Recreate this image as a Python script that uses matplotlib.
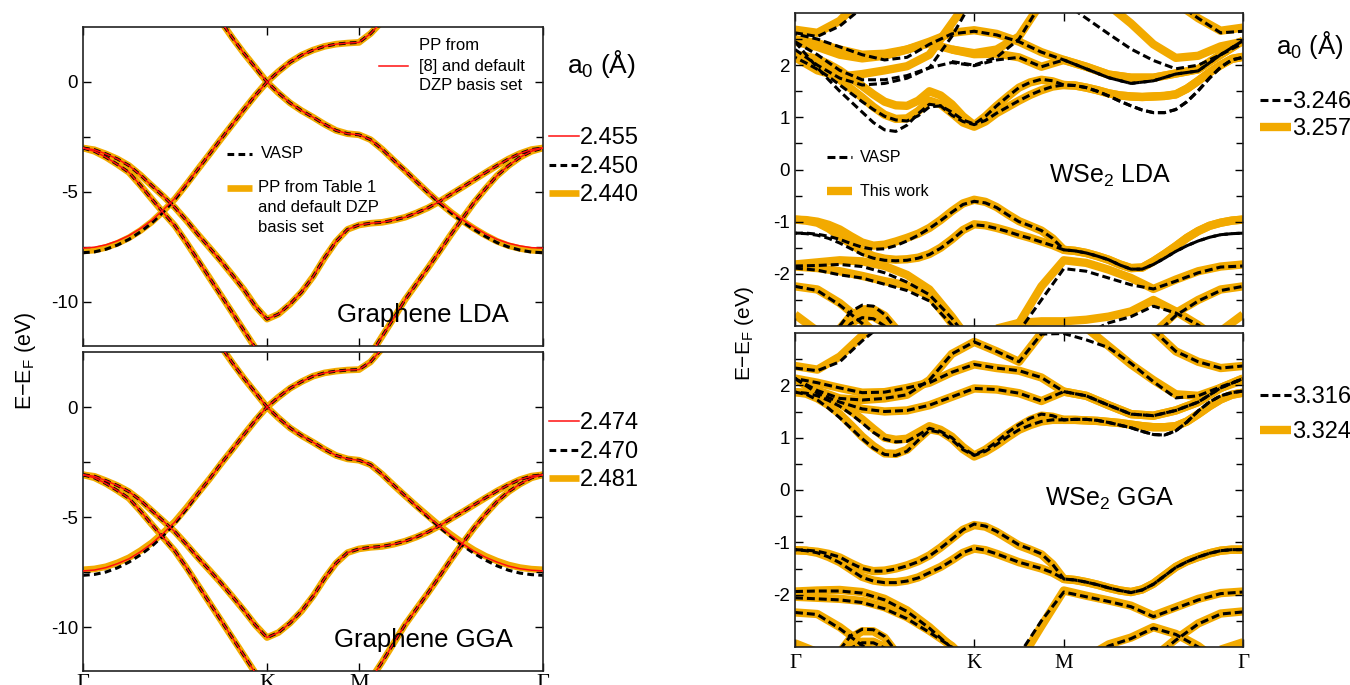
import numpy as np
import matplotlib.pyplot as plt
from matplotlib.lines import Line2D
from matplotlib.ticker import FixedLocator

plt.rcParams['font.family'] = ['Liberation Sans', 'DejaVu Sans']
plt.rcParams['mathtext.fontset'] = 'custom'
plt.rcParams['mathtext.rm'] = 'Liberation Sans'
plt.rcParams['mathtext.it'] = 'Liberation Sans:italic'
plt.rcParams['axes.unicode_minus'] = False

nan = np.nan

# k-path: G -> K -> M -> G   (K at 0.4, M at 0.6)
kpath = [0.0, 0.05, 0.1, 0.15, 0.2, 0.25, 0.3, 0.35, 0.4, 0.45, 0.5,
         0.55, 0.6, 0.65, 0.7, 0.75, 0.8, 0.85, 0.9, 0.95, 1.0]
# finer path for the most visible bands
kfine = [0.0, 0.025, 0.05, 0.075, 0.1, 0.125, 0.15, 0.175, 0.2, 0.225, 0.25,
         0.275, 0.3, 0.325, 0.35, 0.375, 0.4, 0.425, 0.45, 0.475, 0.5,
         0.525, 0.55, 0.575, 0.6, 0.625, 0.65, 0.675, 0.7, 0.725, 0.75,
         0.775, 0.8, 0.825, 0.85, 0.875, 0.9, 0.925, 0.95, 0.975, 1.0]
kmarks = [0.0, 0.4, 0.6, 1.0]
klabels = ['Γ', 'K', 'M', 'Γ']

# ---------------- graphene LDA (on kfine) ----------------
g_lda_pi_vasp = [-7.76, -7.72, -7.6, -7.41, -7.15, -6.81, -6.4, -5.9, -5.33, -4.66, -3.96,
                 -3.28, -2.59, -1.92, -1.25, -0.6, 0.0, -0.5, -0.95, -1.3, -1.6,
                 -1.92, -2.2, -2.35, -2.4, -2.62, -3.05, -3.55, -4.03, -4.53, -5.02,
                 -5.5, -5.94, -6.35, -6.7, -7.02, -7.3, -7.5, -7.64, -7.73, -7.76]
g_lda_pi_this = [-7.68, -7.64, -7.52, -7.33, -7.08, -6.75, -6.35, -5.86, -5.31, -4.65, -3.96,
                 -3.28, -2.59, -1.92, -1.25, -0.6, 0.0, -0.5, -0.95, -1.3, -1.6,
                 -1.92, -2.2, -2.35, -2.4, -2.62, -3.05, -3.55, -4.03, -4.53, -5.02,
                 -5.49, -5.92, -6.31, -6.66, -6.97, -7.24, -7.44, -7.57, -7.65, -7.68]
g_lda_pi_pp8 = [-7.55, -7.51, -7.4, -7.22, -6.98, -6.66, -6.28, -5.8, -5.28, -4.63, -3.95,
                -3.28, -2.59, -1.92, -1.25, -0.6, 0.0, -0.5, -0.95, -1.3, -1.6,
                -1.92, -2.2, -2.35, -2.4, -2.62, -3.05, -3.55, -4.03, -4.53, -5.0,
                -5.47, -5.88, -6.26, -6.6, -6.9, -7.15, -7.33, -7.45, -7.53, -7.55]
g_lda_pistar = [nan] * 10 + [4.2, 3.45, 2.75, 2.0, 1.3, 0.65, 0.0, 0.48, 0.9, 1.22, 1.45,
                             1.62, 1.72, 1.77, 1.8, 2.2, 2.75, 3.4, 4.0] + [nan] * 12
g_lda_sigma_k = [-3.0, -3.08, -3.27, -3.5, -3.8, -4.23, -4.72, -5.2, -5.71, -6.3, -6.93,
                 -7.53, -8.14, -8.78, -9.44, -10.2, -10.78, -10.55, -10.1, -9.55, -8.85,
                 -8.0, -7.25, -6.7, -6.5, -6.42, -6.38, -6.28, -6.15, -5.95, -5.72,
                 -5.43, -5.1, -4.78, -4.45, -4.12, -3.8, -3.5, -3.25, -3.07, -3.0]
g_lda_sigma_s = [-3.0, -3.15, -3.42, -3.75, -4.11, -4.7, -5.33, -5.95, -6.54, -7.3, -8.1,
                 -8.9, -9.7, -10.5, -11.3, -12.1, -12.9] + [nan] * 7 + \
                [-13.2, -12.4, -11.57, -10.75, -9.9, -9.17, -8.45,
                 -7.7, -6.93, -6.2, -5.48, -4.85, -4.26, -3.8, -3.42, -3.15, -3.0]

# ---------------- graphene GGA (on kfine) ----------------
g_gga_pi_vasp = [-7.65, -7.61, -7.5, -7.31, -7.05, -6.72, -6.32, -5.83, -5.28, -4.63, -3.94,
                 -3.27, -2.58, -1.92, -1.25, -0.6, 0.0, -0.5, -0.95, -1.3, -1.6,
                 -1.92, -2.2, -2.36, -2.42, -2.62, -3.05, -3.55, -4.03, -4.52, -5.0,
                 -5.46, -5.9, -6.3, -6.65, -6.96, -7.22, -7.42, -7.55, -7.62, -7.65]
g_gga_pi_this = [-7.4, -7.36, -7.26, -7.08, -6.85, -6.53, -6.16, -5.7, -5.2, -4.58, -3.92,
                 -3.27, -2.58, -1.92, -1.25, -0.6, 0.0, -0.5, -0.95, -1.3, -1.6,
                 -1.92, -2.2, -2.36, -2.42, -2.62, -3.05, -3.55, -4.03, -4.5, -4.95,
                 -5.4, -5.8, -6.17, -6.5, -6.78, -7.0, -7.18, -7.3, -7.37, -7.4]
g_gga_pi_pp8 = [-7.45, -7.41, -7.3, -7.12, -6.9, -6.58, -6.2, -5.73, -5.22, -4.6, -3.93,
                -3.27, -2.58, -1.92, -1.25, -0.6, 0.0, -0.5, -0.95, -1.3, -1.6,
                -1.92, -2.2, -2.36, -2.42, -2.62, -3.05, -3.55, -4.03, -4.51, -4.97,
                -5.42, -5.83, -6.21, -6.55, -6.83, -7.05, -7.23, -7.35, -7.42, -7.45]
g_gga_pistar = [nan] * 10 + [4.2, 3.45, 2.75, 2.0, 1.3, 0.65, 0.0, 0.45, 0.85, 1.15, 1.4,
                             1.55, 1.63, 1.68, 1.7, 2.05, 2.65, 3.3, 3.9] + [nan] * 12
g_gga_sigma_k = [-3.08, -3.15, -3.35, -3.57, -3.85, -4.25, -4.72, -5.19, -5.68, -6.25, -6.85,
                 -7.42, -8.0, -8.62, -9.25, -9.92, -10.48, -10.25, -9.82, -9.28, -8.6,
                 -7.8, -7.1, -6.62, -6.45, -6.38, -6.34, -6.24, -6.1, -5.91, -5.68,
                 -5.4, -5.08, -4.77, -4.45, -4.13, -3.82, -3.54, -3.3, -3.14, -3.08]
g_gga_sigma_s = [-3.08, -3.22, -3.48, -3.8, -4.15, -4.73, -5.35, -5.95, -6.55, -7.3, -8.1,
                 -8.9, -9.7, -10.5, -11.3, -12.1, -12.9] + [nan] * 7 + \
                [-13.2, -12.4, -11.6, -10.75, -9.9, -9.17, -8.45,
                 -7.7, -6.93, -6.2, -5.5, -4.87, -4.3, -3.85, -3.5, -3.22, -3.08]

# ---------------- WSe2 LDA: main bands on kfine ----------------
w_lda_v1_this = [-0.96, -0.97, -1.0, -1.06, -1.15, -1.28, -1.4, -1.46, -1.44, -1.38,
                 -1.31, -1.23, -1.12, -0.97, -0.8, -0.65, -0.58, -0.62, -0.72, -0.86,
                 -0.99, -1.08, -1.17, -1.32, -1.54, -1.56, -1.6, -1.66, -1.73, -1.82,
                 -1.89, -1.88, -1.76, -1.62, -1.47, -1.31, -1.18, -1.08, -1.02, -0.98, -0.96]
w_lda_v2_this = [-0.96, -0.98, -1.02, -1.13, -1.28, -1.43, -1.57, -1.66, -1.71, -1.73,
                 -1.72, -1.69, -1.62, -1.5, -1.34, -1.16, -1.05, -1.07, -1.12, -1.18,
                 -1.25, -1.31, -1.38, -1.45, -1.54, -1.56, -1.6, -1.66, -1.73, -1.82,
                 -1.89, -1.88, -1.76, -1.62, -1.47, -1.31, -1.18, -1.08, -1.02, -0.98, -0.96]
w_lda_v1_vasp = [-1.22, -1.22, -1.24, -1.28, -1.34, -1.42, -1.49, -1.53, -1.52, -1.46,
                 -1.37, -1.26, -1.13, -0.98, -0.82, -0.67, -0.61, -0.64, -0.73, -0.87,
                 -1.0, -1.08, -1.17, -1.32, -1.54, -1.56, -1.6, -1.66, -1.73, -1.83,
                 -1.91, -1.91, -1.82, -1.7, -1.57, -1.46, -1.37, -1.3, -1.25, -1.23, -1.22]
w_lda_v2_vasp = [-1.22, -1.23, -1.26, -1.32, -1.41, -1.52, -1.63, -1.7, -1.74, -1.75,
                 -1.74, -1.7, -1.63, -1.51, -1.35, -1.17, -1.06, -1.08, -1.13, -1.19,
                 -1.26, -1.32, -1.39, -1.46, -1.54, -1.56, -1.6, -1.66, -1.73, -1.83,
                 -1.91, -1.91, -1.82, -1.7, -1.57, -1.46, -1.37, -1.3, -1.25, -1.23, -1.22]
w_lda_c1_vasp = [2.45, 2.2, 1.95, 1.72, 1.5, 1.3, 1.1, 0.9, 0.76, 0.73,
                 0.85, 1.07, 1.25, 1.22, 1.04, 0.92, 0.86, 0.94, 1.08, 1.2,
                 1.32, 1.43, 1.52, 1.59, 1.62, 1.61, 1.57, 1.5, 1.41, 1.31,
                 1.22, 1.14, 1.09, 1.09, 1.15, 1.3, 1.51, 1.75, 1.96, 2.1, 2.15]
w_lda_c2_vasp = [2.15, 2.04, 1.92, 1.78, 1.62, 1.46, 1.3, 1.15, 1.02, 0.95,
                 0.93, 1.03, 1.2, 1.22, 1.1, 0.95, 0.87, 1.02, 1.22, 1.4,
                 1.57, 1.67, 1.73, 1.7, 1.62, 1.61, 1.57, 1.5, 1.41, 1.31,
                 1.22, 1.14, 1.09, 1.09, 1.15, 1.3, 1.51, 1.75, 1.96, 2.1, 2.15]
w_lda_c1_this = [2.15, 2.09, 2.0, 1.87, 1.72, 1.55, 1.38, 1.2, 1.05, 0.97,
                 0.98, 1.12, 1.32, 1.25, 1.08, 0.9, 0.82, 0.92, 1.08, 1.2,
                 1.32, 1.43, 1.52, 1.59, 1.62, 1.61, 1.57, 1.52, 1.46, 1.42,
                 1.4, 1.39, 1.4, 1.41, 1.44, 1.55, 1.7, 1.86, 2.0, 2.12, 2.16]
w_lda_c2_this = [2.2, 2.17, 2.12, 2.02, 1.9, 1.75, 1.6, 1.44, 1.3, 1.23,
                 1.22, 1.32, 1.5, 1.42, 1.25, 1.02, 0.85, 1.02, 1.22, 1.4,
                 1.57, 1.67, 1.72, 1.69, 1.62, 1.61, 1.57, 1.52, 1.46, 1.42,
                 1.4, 1.39, 1.4, 1.41, 1.44, 1.55, 1.7, 1.86, 2.0, 2.12, 2.16]

# ---------------- WSe2 LDA: other bands on kpath ----------------
w_lda_v3_this = [-1.82, -1.78, -1.74, -1.76, -1.85, -2.02, -2.3, -2.82, -3.4] + [nan] * 12
w_lda_v4_this = [-1.86, -1.89, -1.95, -2.04, -2.14, -2.22, -2.42, -2.95, -3.5] + [nan] * 12
w_lda_v3_vasp = [-1.85, -1.84, -1.82, -1.86, -1.98, -2.16, -2.4, -2.85, -3.4] + [nan] * 12
w_lda_v4_vasp = [-1.89, -1.93, -2.02, -2.08, -2.2, -2.32, -2.52, -2.98, -3.5] + [nan] * 12
w_lda_v5_this = [-2.24, -2.3, -2.56, -2.91, -3.3] + [nan] * 16
w_lda_v5_vasp = [-2.24, -2.32, -2.6, -2.95, -3.35] + [nan] * 16
w_lda_v6_this = [-2.78, -3.1] + [nan] * 17 + [-3.1, -2.78]
w_lda_v7_this = [nan] * 9 + [-3.6, -2.95, -2.24, -1.74, -1.79, -1.92, -2.08, -2.29,
                             -2.11, -1.95, -1.86, -1.82]
w_lda_v7_vasp = [nan] * 9 + [-3.7, -3.1, -2.5, -1.9, -1.95, -2.08, -2.21, -2.29,
                             -2.14, -1.98, -1.87, -1.85]
w_lda_v8_this = [nan] * 9 + [-3.05, -2.94, -2.91, -2.91, -2.88, -2.82, -2.72, -2.5,
                             -2.72, -2.98, -3.3, nan]
w_lda_v8_vasp = [nan] * 13 + [-3.15, -2.94, -2.82, -2.62, -2.75, -2.98, -3.3, nan]
w_lda_v9_this = [nan] * 16 + [-3.15, -2.75, -2.5, -2.3, -2.24]
w_lda_v9_vasp = [nan] * 16 + [-3.2, -2.8, -2.52, -2.32, -2.24]
bump_k = [0.1, 0.125, 0.15, 0.175, 0.2, 0.225]
w_lda_bump1_this = [-3.05, -2.8, -2.68, -2.68, -2.8, -3.05]
w_lda_bump1_vasp = [-3.0, -2.72, -2.6, -2.62, -2.78, -3.05]
w_lda_bump2_this = [-3.15, -2.95, -2.82, -2.82, -2.95, -3.15]
w_lda_bump2_vasp = [-3.2, -2.95, -2.84, -2.86, -3.0, -3.2]

w_lda_c3_vasp = [2.45, 2.2, 1.9, 1.72, 1.72, 1.8, 1.95, 2.05, 1.99, 2.1, 2.15,
                 1.97, 2.1, 1.93, 1.76, 1.65, 1.7, 1.83, 1.89, 2.2, 2.47]
w_lda_c4_vasp = [2.6, 2.5, 2.35, 2.2, 2.1, 2.15, 2.4, 2.6, 2.65, 2.58, 2.45,
                 2.25, 2.1, 1.93, 1.76, 1.65, 1.7, 1.83, 1.89, 2.2, 2.47]
w_lda_c5_vasp = [nan] * 7 + [2.07, 2.0, 2.15, 2.5, 3.2] + [nan] * 9
w_lda_y_vasp = [2.3, 2.0, 1.75, 1.62, 1.65, 1.75, 1.95, 2.55, 3.3] + [nan] * 12
w_lda_top_vasp = [nan] * 12 + [3.2, 2.9, 2.6, 2.31, 2.09, 1.93, 2.0, 2.2, 2.42]
w_lda_t_vasp = [2.62, 2.55, 2.75, 3.1] + [nan] * 17
w_lda_tr_vasp = [nan] * 17 + [3.2, 2.9, 2.62, 2.65]
w_lda_c3_this = [2.45, 2.35, 2.2, 2.13, 2.18, 2.3, 2.42, 2.3, 2.21, 2.22, 2.15,
                 1.97, 2.1, 1.97, 1.82, 1.76, 1.76, 1.84, 1.92, 2.2, 2.47]
w_lda_c4_this = [2.5, 2.42, 2.3, 2.2, 2.22, 2.3, 2.45, 2.62, 2.67, 2.6, 2.45,
                 2.25, 2.1, 1.97, 1.82, 1.76, 1.76, 1.84, 1.92, 2.2, 2.47]
w_lda_c5_this = [nan] * 7 + [2.3, 2.23, 2.3, 2.55, 3.2] + [nan] * 9
w_lda_y_this = [2.15, 1.9, 1.78, 1.83, 1.9, 1.98, 2.2, 2.8, 3.4] + [nan] * 12
w_lda_top_this = [nan] * 14 + [3.15, 2.8, 2.4, 2.14, 2.18, 2.36, 2.45]
w_lda_t_this = [2.68, 2.62, 2.85, 3.3] + [nan] * 17
w_lda_tr_this = [nan] * 17 + [3.2, 2.9, 2.66, 2.72]

# ---------------- WSe2 GGA: main bands on kfine ----------------
w_gga_v1_this = [-1.15, -1.16, -1.18, -1.22, -1.29, -1.4, -1.5, -1.55, -1.54, -1.5,
                 -1.44, -1.36, -1.25, -1.1, -0.93, -0.76, -0.67, -0.7, -0.8, -0.93,
                 -1.06, -1.14, -1.23, -1.42, -1.7, -1.72, -1.76, -1.81, -1.87, -1.92,
                 -1.95, -1.9, -1.79, -1.63, -1.47, -1.36, -1.28, -1.21, -1.16, -1.14, -1.14]
w_gga_v2_this = [-1.15, -1.16, -1.2, -1.28, -1.38, -1.52, -1.66, -1.73, -1.76, -1.76,
                 -1.73, -1.67, -1.57, -1.47, -1.34, -1.2, -1.12, -1.15, -1.22, -1.3,
                 -1.38, -1.44, -1.5, -1.58, -1.7, -1.72, -1.76, -1.81, -1.87, -1.92,
                 -1.95, -1.9, -1.79, -1.63, -1.47, -1.36, -1.28, -1.21, -1.16, -1.14, -1.14]
w_gga_v1_vasp = [-1.14, -1.15, -1.17, -1.22, -1.28, -1.4, -1.5, -1.55, -1.55, -1.51,
                 -1.45, -1.37, -1.26, -1.11, -0.94, -0.76, -0.65, -0.69, -0.79, -0.92,
                 -1.05, -1.13, -1.22, -1.42, -1.7, -1.72, -1.76, -1.81, -1.87, -1.92,
                 -1.96, -1.91, -1.8, -1.64, -1.48, -1.37, -1.28, -1.21, -1.16, -1.14, -1.14]
w_gga_v2_vasp = [-1.14, -1.16, -1.2, -1.28, -1.39, -1.53, -1.67, -1.74, -1.77, -1.77,
                 -1.74, -1.68, -1.58, -1.48, -1.35, -1.2, -1.11, -1.15, -1.22, -1.3,
                 -1.38, -1.44, -1.5, -1.58, -1.7, -1.72, -1.76, -1.81, -1.87, -1.92,
                 -1.96, -1.91, -1.8, -1.64, -1.48, -1.37, -1.28, -1.21, -1.16, -1.14, -1.14]
w_gga_c1_vasp = [1.87, 1.83, 1.72, 1.56, 1.38, 1.18, 0.98, 0.8, 0.68, 0.66,
                 0.74, 0.95, 1.14, 1.1, 0.96, 0.77, 0.66, 0.74, 0.87, 1.02,
                 1.15, 1.24, 1.31, 1.34, 1.34, 1.35, 1.35, 1.33, 1.29, 1.24,
                 1.19, 1.12, 1.06, 1.05, 1.13, 1.3, 1.51, 1.68, 1.8, 1.86, 1.89]
w_gga_c2_vasp = [1.87, 1.85, 1.8, 1.71, 1.6, 1.45, 1.28, 1.1, 0.97, 0.92,
                 0.93, 1.05, 1.18, 1.12, 1.0, 0.8, 0.67, 0.77, 0.92, 1.1,
                 1.25, 1.37, 1.45, 1.42, 1.34, 1.35, 1.35, 1.33, 1.29, 1.24,
                 1.19, 1.12, 1.06, 1.05, 1.13, 1.3, 1.51, 1.68, 1.8, 1.86, 1.89]
w_gga_c1_this = [1.87, 1.84, 1.75, 1.62, 1.45, 1.24, 1.02, 0.84, 0.7, 0.69,
                 0.77, 0.97, 1.16, 1.12, 0.98, 0.78, 0.64, 0.73, 0.86, 1.01,
                 1.15, 1.24, 1.31, 1.34, 1.34, 1.34, 1.33, 1.32, 1.3, 1.28,
                 1.25, 1.22, 1.2, 1.2, 1.22, 1.31, 1.45, 1.6, 1.73, 1.82, 1.86]
w_gga_c2_this = [1.87, 1.86, 1.82, 1.75, 1.65, 1.51, 1.35, 1.17, 1.0, 0.96,
                 0.98, 1.1, 1.22, 1.15, 1.02, 0.82, 0.66, 0.77, 0.92, 1.08,
                 1.22, 1.34, 1.42, 1.4, 1.34, 1.34, 1.33, 1.32, 1.3, 1.28,
                 1.25, 1.22, 1.2, 1.2, 1.22, 1.31, 1.45, 1.6, 1.73, 1.82, 1.86]

# ---------------- WSe2 GGA: other bands on kpath ----------------
w_gga_v3_this = [-1.94, -1.92, -1.91, -1.95, -2.08, -2.3, -2.62, -3.0, -3.5] + [nan] * 12
w_gga_v4_this = [-2.04, -2.06, -2.08, -2.12, -2.24, -2.43, -2.69, -2.98, -3.4] + [nan] * 12
w_gga_v3_vasp = [-1.94, -1.93, -1.93, -1.97, -2.1, -2.32, -2.64, -3.02, -3.5] + [nan] * 12
w_gga_v4_vasp = [-2.06, -2.08, -2.1, -2.15, -2.27, -2.46, -2.72, -3.0, -3.4] + [nan] * 12
w_gga_v5_this = [-2.34, -2.37, -2.62, -2.94, -3.3] + [nan] * 16
w_gga_v5_vasp = [-2.34, -2.38, -2.65, -2.97, -3.3] + [nan] * 16
w_gga_v6_this = [-2.93, -3.1] + [nan] * 17 + [-3.05, -2.91]
w_gga_v7_this = [nan] * 9 + [-3.9, -3.3, -2.6, -1.92, -2.02, -2.11, -2.21, -2.4,
                             -2.24, -2.08, -1.97, -1.94]
w_gga_v7_vasp = [nan] * 9 + [-3.8, -3.15, -2.5, -1.95, -2.04, -2.13, -2.23, -2.42,
                             -2.26, -2.1, -1.98, -1.95]
w_gga_v8_this = [nan] * 13 + [-3.2, -2.95, -2.82, -2.62, -2.75, -2.98, -3.3, nan]
w_gga_v8_vasp = [nan] * 13 + [-3.25, -2.98, -2.84, -2.64, -2.76, -3.0, -3.3, nan]
w_gga_v9_this = [nan] * 16 + [-3.2, -2.85, -2.55, -2.36, -2.32]
w_gga_v9_vasp = [nan] * 16 + [-3.22, -2.87, -2.56, -2.37, -2.33]
w_gga_bump1_this = [-3.1, -2.82, -2.7, -2.7, -2.82, -3.1]
w_gga_bump1_vasp = [-3.05, -2.78, -2.66, -2.67, -2.8, -3.08]
w_gga_bump2_this = [-3.2, -3.0, -2.9, -2.9, -3.0, -3.2]
w_gga_bump2_vasp = [-3.22, -3.02, -2.92, -2.92, -3.02, -3.22]

w_gga_c3 = [2.13, 1.85, 1.68, 1.55, 1.5, 1.52, 1.62, 1.78, 1.94, 1.92, 1.85,
            1.7, 1.88, 1.8, 1.62, 1.45, 1.42, 1.52, 1.68, 1.95, 2.13]
w_gga_c4 = [2.13, 2.05, 1.95, 1.86, 1.87, 1.95, 2.05, 2.25, 2.4, 2.33, 2.28,
            2.15, 1.88, 1.8, 1.62, 1.45, 1.42, 1.52, 1.68, 1.95, 2.13]
w_gga_c5_vasp = [2.13, 1.9, 1.75, 1.72, 1.75, 1.82, 2.1, 2.6, 2.83, 2.65, 2.45,
                 2.98, 2.99, 2.87, 2.72, 2.42, 2.07, 1.76, 1.8, 1.97, 2.12]
w_gga_c5_this = [2.13, 1.9, 1.75, 1.72, 1.75, 1.82, 2.1, 2.6, 2.83, 2.65, 2.45,
                 3.0, 3.6] + [nan] * 8
w_gga_top_this = [nan] * 13 + [3.1, 2.75, 2.4, 2.1, 1.83, 1.8, 1.95, 2.1]
w_gga_t_this = [2.37, 2.3, 2.55, 2.95, 3.3] + [nan] * 16
w_gga_t_vasp = [2.33, 2.28, 2.45, 2.85, 3.2] + [nan] * 16
w_gga_tr = [nan] * 16 + [3.05, 2.65, 2.45, 2.33, 2.37]

# ---------------- styles ----------------
ORANGE = '#f2aa00'
G_THIS = dict(color=ORANGE, linewidth=4.8, solid_capstyle='butt', zorder=1)
G_VASP = dict(color='black', linewidth=2.2, linestyle=(0, (2.2, 1.4)), zorder=2)
G_PP8 = dict(color='#ff1010', linewidth=1.1, zorder=3)
W_THIS = dict(color=ORANGE, linewidth=6.0, solid_capstyle='butt', zorder=1)
W_VASP = dict(color='black', linewidth=2.2, linestyle=(0, (2.6, 1.3)), zorder=2)
W_VASP_B = dict(color='black', linewidth=2.2, linestyle=(1.95, (2.6, 1.3)), zorder=2)

W, H = 1350, 685
fig = plt.figure(figsize=(W / 100, H / 100), dpi=100)


def box(x0, y0, x1, y1):
    return [x0 / W, 1 - y1 / H, (x1 - x0) / W, (y1 - y0) / H]


def fx(x):
    return x / W


def fy(y):
    return 1 - y / H


ax_g1 = fig.add_axes(box(83, 27, 543, 346))
ax_g2 = fig.add_axes(box(83, 352, 543, 671))
ax_w1 = fig.add_axes(box(795, 13, 1243, 326))
ax_w2 = fig.add_axes(box(795, 333, 1243, 647))


def setup(ax, ylim, majors, minors, show_x, xfs, xpad):
    ax.set_xlim(0, 1)
    ax.set_ylim(*ylim)
    ax.set_xticks(kmarks)
    ax.yaxis.set_major_locator(FixedLocator(majors))
    ax.yaxis.set_minor_locator(FixedLocator(minors))
    ax.tick_params(axis='x', direction='in', top=True, length=6, width=1, pad=xpad)
    ax.tick_params(axis='y', which='both', direction='in', right=True, width=1,
                   labelsize=13.5)
    ax.tick_params(axis='y', which='major', length=6)
    ax.tick_params(axis='y', which='minor', length=5)
    if show_x:
        ax.set_xticklabels(klabels, fontfamily='Liberation Serif', fontsize=xfs)
    else:
        ax.set_xticklabels([])
    for s in ax.spines.values():
        s.set_linewidth(1.2)
        s.set_color('#222222')


for ax, show in ((ax_g1, False), (ax_g2, True)):
    setup(ax, (-12, 2.5), [-10, -5, 0], [-7.5, -2.5], show, 16, 2.5)
for ax, show in ((ax_w1, False), (ax_w2, True)):
    setup(ax, (-3, 3), [-2, -1, 0, 1, 2], [-2.5, -1.5, -0.5, 0.5, 1.5, 2.5], show, 15, 5)

# graphene bands
for ax, pis, pi_t, pi_v, pi_p, sk, ss in (
        (ax_g1, g_lda_pistar, g_lda_pi_this, g_lda_pi_vasp, g_lda_pi_pp8, g_lda_sigma_k, g_lda_sigma_s),
        (ax_g2, g_gga_pistar, g_gga_pi_this, g_gga_pi_vasp, g_gga_pi_pp8, g_gga_sigma_k, g_gga_sigma_s)):
    for style, pi in ((G_THIS, pi_t), (G_VASP, pi_v), (G_PP8, pi_p)):
        ax.plot(kfine, pi, **style)
        ax.plot(kfine, pis, **style)
        ax.plot(kfine, sk, **style)
        ax.plot(kfine, ss, **style)

# WSe2 panels: (k grid, band) pairs
lda_this = [(kfine, w_lda_v1_this), (kfine, w_lda_v2_this), (kfine, w_lda_c1_this),
            (kfine, w_lda_c2_this), (kpath, w_lda_v3_this), (kpath, w_lda_v4_this),
            (kpath, w_lda_v5_this), (kpath, w_lda_v6_this), (kpath, w_lda_v7_this),
            (kpath, w_lda_v8_this), (kpath, w_lda_v9_this), (kpath, w_lda_c3_this),
            (kpath, w_lda_c4_this), (kpath, w_lda_c5_this), (kpath, w_lda_y_this),
            (kpath, w_lda_top_this), (kpath, w_lda_t_this), (kpath, w_lda_tr_this),
            (bump_k, w_lda_bump1_this), (bump_k, w_lda_bump2_this)]
lda_vasp = [(kfine, w_lda_v1_vasp), (kfine, w_lda_c1_vasp), (kpath, w_lda_v3_vasp),
            (kpath, w_lda_v4_vasp), (kpath, w_lda_v5_vasp), (kpath, w_lda_v7_vasp),
            (kpath, w_lda_v8_vasp), (kpath, w_lda_v9_vasp), (kpath, w_lda_c3_vasp),
            (kpath, w_lda_c5_vasp), (kpath, w_lda_y_vasp), (kpath, w_lda_top_vasp),
            (kpath, w_lda_t_vasp), (kpath, w_lda_tr_vasp),
            (bump_k, w_lda_bump1_vasp), (bump_k, w_lda_bump2_vasp)]
lda_vasp_b = [(kfine, w_lda_v2_vasp), (kfine, w_lda_c2_vasp), (kpath, w_lda_c4_vasp)]

gga_this = [(kfine, w_gga_v1_this), (kfine, w_gga_v2_this), (kfine, w_gga_c1_this),
            (kfine, w_gga_c2_this), (kpath, w_gga_v3_this), (kpath, w_gga_v4_this),
            (kpath, w_gga_v5_this), (kpath, w_gga_v6_this), (kpath, w_gga_v7_this),
            (kpath, w_gga_v8_this), (kpath, w_gga_v9_this), (kpath, w_gga_c3),
            (kpath, w_gga_c4), (kpath, w_gga_c5_this), (kpath, w_gga_top_this),
            (kpath, w_gga_t_this), (kpath, w_gga_tr),
            (bump_k, w_gga_bump1_this), (bump_k, w_gga_bump2_this)]
gga_vasp = [(kfine, w_gga_v1_vasp), (kfine, w_gga_c1_vasp), (kpath, w_gga_v3_vasp),
            (kpath, w_gga_v4_vasp), (kpath, w_gga_v5_vasp), (kpath, w_gga_v7_vasp),
            (kpath, w_gga_v8_vasp), (kpath, w_gga_v9_vasp), (kpath, w_gga_c3),
            (kpath, w_gga_c5_vasp), (kpath, w_gga_t_vasp), (kpath, w_gga_tr),
            (bump_k, w_gga_bump1_vasp), (bump_k, w_gga_bump2_vasp)]
gga_vasp_b = [(kfine, w_gga_v2_vasp), (kfine, w_gga_c2_vasp), (kpath, w_gga_c4)]

for ax, this, vasp, vasp_b in ((ax_w1, lda_this, lda_vasp, lda_vasp_b),
                               (ax_w2, gga_this, gga_vasp, gga_vasp_b)):
    for k, b in this:
        ax.plot(k, b, **W_THIS)
    for k, b in vasp:
        ax.plot(k, b, **W_VASP)
    for k, b in vasp_b:
        ax.plot(k, b, **W_VASP_B)


# ---------------- legends / labels (figure pixel positions) ----------------
def sample(x0, x1, y, style):
    st = {k: v for k, v in style.items() if k != 'zorder'}
    fig.add_artist(Line2D([fx(x0), fx(x1)], [fy(y), fy(y)], **st))


def label(x, y, s, size, ha='left', va='center', **kw):
    fig.text(fx(x), fy(y), s, fontsize=size, ha=ha, va=va, **kw)


# graphene
sample(379, 408, 66, G_PP8)
label(419, 46, 'PP from', 12)
label(419, 66, '[8] and default', 12)
label(419, 85, 'DZP basis set', 12)
sample(227, 252, 154, G_VASP)
label(261, 154, 'VASP', 12)
sample(227, 252, 188, G_THIS)
label(258, 188, 'PP from Table 1', 12)
label(258, 207, 'and default DZP', 12)
label(258, 227, 'basis set', 12)
label(567, 73, 'a$_0$ (Å)', 19, va='baseline')
label(423, 322, 'Graphene LDA', 18.5, ha='center', va='baseline')
label(423, 647, 'Graphene GGA', 18.5, ha='center', va='baseline')
for y, txt, st in ((136, '2.455', G_PP8), (165, '2.450', G_VASP), (193, '2.440', G_THIS),
                   (421, '2.474', G_PP8), (450, '2.470', G_VASP), (478, '2.481', G_THIS)):
    sample(549, 579, y, st)
    label(580, y + 8, txt, 17, va='baseline')
label(25, 361, r'E$-$E$_\mathregular{F}$ (eV)', 15.5, ha='center', rotation=90)

# WSe2
sample(827, 852, 157, W_VASP)
label(860, 157, 'VASP', 11.5)
sample(827, 852, 191, W_THIS)
label(860, 191, 'This work', 11.5)
label(1276, 54, 'a$_0$ (Å)', 18.5, va='baseline')
label(1110, 183, r'WSe$_\mathregular{2}$ LDA', 18, ha='center', va='baseline')
label(1110, 506, r'WSe$_\mathregular{2}$ GGA', 18, ha='center', va='baseline')
for y, txt, st in ((100, '3.246', W_VASP), (127, '3.257', W_THIS),
                   (395, '3.316', W_VASP), (430, '3.324', W_THIS)):
    sample(1260, 1291, y, st)
    label(1292, y + 8, txt, 17, va='baseline')
label(745, 333, r'E$-$E$_\mathregular{F}$ (eV)', 15, ha='center', rotation=90)

fig.savefig('out.png', dpi=100)
